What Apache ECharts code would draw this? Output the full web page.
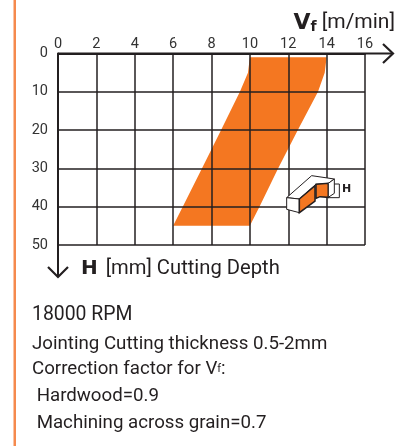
<!DOCTYPE html>
<html><head><meta charset="utf-8">
<style>html,body{margin:0;padding:0;background:#fff}#c{width:406px;height:446px}</style>
<script src="https://cdn.jsdelivr.net/npm/echarts@6/dist/echarts.min.js"></script>
</head><body><div id="c"></div>
<script>
const xTicks = [0,2,4,6,8,10,12,14,16];
const yTicks = [0,10,20,30,40,50];
const leftEdgeSpeed  = [10,9.9,9.48,8.5,7.5,6.5,6];
const leftEdgeDepth  = [1,5,10,20,30,40,45];
const rightEdgeSpeed = [14,13.9,13.55,12.5,11.47,10.5,10];
const rightEdgeDepth = [1,5,10,20,30,40,45];
const notes = ['18000 RPM','Jointing Cutting thickness 0.5-2mm','Correction factor for V{s|f}:',' Hardwood=0.9',' Machining across grain=0.7'];

const polygon = [];
leftEdgeSpeed.forEach((v,i)=>polygon.push([v,leftEdgeDepth[i]]));
for(let i=rightEdgeSpeed.length-1;i>=0;i--) polygon.push([rightEdgeSpeed[i],rightEdgeDepth[i]]);

const ink='#231f20', orange='#f47721', F='Roboto, sans-serif';
const chart=echarts.init(document.getElementById('c'),null,{renderer:'canvas'});
const line=(x1,y1,x2,y2,w)=>({type:'line',shape:{x1,y1,x2,y2},style:{stroke:ink,lineWidth:w||2},z:20});
const poly=(points,fill,w)=>({type:'polygon',shape:{points},style:{fill:fill,stroke:ink,lineWidth:w||1},z:20});
const P=(a)=>a.map(p=>[270+p[0]/3,165+p[1]/3]);
chart.setOption({
  animation:false,
  grid:{left:58,top:53.5,width:307,height:191.5,containLabel:false},
  xAxis:{type:'value',position:'top',min:0,max:16,interval:2,z:5,
    axisLine:{show:true,onZero:false,lineStyle:{color:ink,width:2}},
    axisTick:{show:false},
    axisLabel:{margin:2,color:'#333',fontFamily:F,fontSize:14.5,formatter:v=>xTicks.includes(v)?String(v):''},
    splitLine:{show:true,lineStyle:{color:ink,width:1.5}}},
  yAxis:{type:'value',inverse:true,min:0,max:50,interval:10,z:5,
    axisLine:{show:true,onZero:false,lineStyle:{color:ink,width:2}},
    axisTick:{show:false},
    axisLabel:{margin:10,color:'#333',fontFamily:F,fontSize:14.5,padding:[0,0,7,0],formatter:v=>yTicks.includes(v)?String(v):''},
    splitLine:{show:true,lineStyle:{color:ink,width:1.5}}},
  title:[
    {text:'{b|V}{s|f} {t|[m/min]}',right:11,top:12,padding:0,textStyle:{fontWeight:'normal',rich:{
      b:{fontFamily:'DejaVu Sans',fontWeight:'bold',fontSize:22,color:ink},
      s:{fontFamily:'DejaVu Sans',fontWeight:'bold',fontSize:14,color:ink,verticalAlign:'bottom',padding:[8,0,0,0]},
      t:{fontFamily:F,fontWeight:'normal',fontSize:21,color:ink}}}},
    {text:'{b|H} {t|[mm] Cutting Depth}',left:81,top:259,padding:0,textStyle:{fontWeight:'normal',rich:{
      b:{fontFamily:'DejaVu Sans',fontWeight:'bold',fontSize:20,color:ink,padding:[0,3,0,0]},
      t:{fontFamily:F,fontWeight:'normal',fontSize:20.2,color:ink}}}}
  ].concat(notes.map((n,i)=>({text:n,left:32,top:[306,335,360,387,414][i],padding:0,
    textStyle:{fontFamily:F,fontSize:i===0?19.4:18.7,fontWeight:'normal',color:ink,rich:{s:{fontFamily:F,fontWeight:'normal',fontSize:11,color:ink}}}}))),
  series:[{type:'custom',coordinateSystem:'cartesian2d',z:1,clip:false,
    data:polygon,
    encode:{x:0,y:1},
    renderItem:function(params,api){
      if(params.dataIndex!==0) return;
      return {type:'polygon',shape:{points:polygon.map(p=>api.coord(p))},style:{fill:orange}};
    }}],
  graphic:[
    {type:'rect',shape:{x:13.5,y:0,width:2.5,height:446},style:{fill:'#f58a4e'},z:1},
    line(58,53.5,392,53.5),
    {type:'polyline',shape:{points:[[383,44],[393,53.5],[383,63]]},style:{stroke:ink,lineWidth:2.2,fill:null},z:20},
    line(58,245,58,277),
    {type:'polyline',shape:{points:[[48,267],[58,277],[68,267]]},style:{stroke:ink,lineWidth:2.2,fill:null},z:20},
    poly(P([[50,98],[125,32],[193,42],[175,55],[138,58],[88,102]]),'#fff'),
    poly(P([[50,98],[88,102],[88,143],[50,133]]),'#fff'),
    poly(P([[88,102],[135,62],[135,108],[88,143]]),orange,1.5),
    poly(P([[138,58],[175,55],[175,97],[150,95],[138,100]]),orange,1.5),
    poly(P([[175,55],[193,42],[193,85],[175,97]]),'#fff'),
    {type:'polyline',shape:{points:P([[193,57],[208,57],[208,98],[175,98]])},style:{stroke:ink,lineWidth:1,fill:null},z:20},
    {type:'text',x:342,y:184,style:{text:'H',fontFamily:'DejaVu Sans',fontWeight:'bold',fontSize:11,fill:ink},z:20}
  ]
});
</script></body></html>
